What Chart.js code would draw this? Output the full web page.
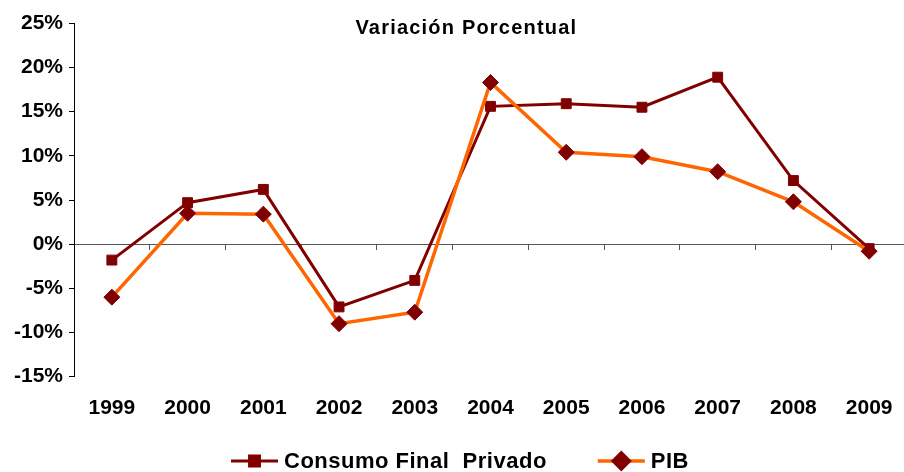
<!DOCTYPE html>
<html>
<head>
<meta charset="utf-8">
<script src="https://cdn.jsdelivr.net/npm/chart.js@4/dist/chart.umd.min.js"></script>
<style>
  html, body { margin: 0; padding: 0; background: #fff; }
  #wrap { width: 904px; height: 472px; overflow: hidden; }
</style>
</head>
<body>
<div id="wrap"><canvas id="chart" width="916" height="472"></canvas></div>
<script>
const years = ["1999", "2000", "2001", "2002", "2003", "2004", "2005", "2006", "2007", "2008", "2009"];
const consumoFinal = [-1.8, 4.7, 6.2, -7.1, -4.1, 15.6, 15.9, 15.5, 18.9, 7.2, -0.5];
const pib = [-6.0, 3.5, 3.4, -9.0, -7.7, 18.3, 10.4, 9.9, 8.2, 4.8, -0.8];
const yMin = -15;
const yMax = 25;
const yStep = 5;
const titleText = "Variación Porcentual";

const FONT = '"Liberation Sans", Arial, sans-serif';
const MAROON = "#800000";
const ORANGE = "#FF6600";

const titlePlugin = {
  id: "plotTitle",
  afterDraw(chart) {
    const { ctx, chartArea } = chart;
    ctx.save();
    ctx.font = `bold 20px ${FONT}`;
    ctx.letterSpacing = "1.2px";
    ctx.fillStyle = "#000";
    ctx.textAlign = "center";
    ctx.textBaseline = "middle";
    ctx.fillText(titleText, chartArea.left + chartArea.width * 0.471, chartArea.top + 5);
    ctx.restore();
  },
};

// legend: line sample with the marker on it, then the label
const legendPlugin = {
  id: "lineLegend",
  afterDraw(chart) {
    const { ctx } = chart;
    const sampleW = 47, gap = 6, spacing = 51, y = 461;
    ctx.save();
    ctx.font = `bold 22px ${FONT}`;
    ctx.letterSpacing = "0.5px";
    ctx.textBaseline = "middle";
    ctx.textAlign = "left";
    const sets = chart.data.datasets;
    const widths = sets.map((ds) => sampleW + gap + ctx.measureText(ds.label).width);
    const total = widths.reduce((a, b) => a + b, 0) + spacing * (sets.length - 1);
    let x = 460 - total / 2;
    sets.forEach((ds, i) => {
      ctx.strokeStyle = ds.borderColor;
      ctx.lineWidth = ds.borderWidth;
      ctx.beginPath();
      ctx.moveTo(x, y);
      ctx.lineTo(x + sampleW, y);
      ctx.stroke();
      ctx.fillStyle = ds.pointBackgroundColor;
      ctx.strokeStyle = ds.pointBorderColor;
      Chart.helpers.drawPoint(ctx, { pointStyle: ds.pointStyle, radius: ds.pointRadius, borderWidth: 1, rotation: 0 }, x + sampleW / 2, y);
      ctx.fillStyle = "#000";
      ctx.fillText(ds.label, x + sampleW + gap, y + 1);
      x += widths[i] + spacing;
    });
    ctx.restore();
  },
};

new Chart(document.getElementById("chart"), {
  type: "line",
  data: {
    labels: years,
    datasets: [
      {
        label: "Consumo Final  Privado",
        data: consumoFinal,
        borderColor: MAROON,
        borderWidth: 3,
        pointStyle: "rect",
        pointRadius: 7,
        pointBackgroundColor: MAROON,
        pointBorderColor: MAROON,
        pointBorderWidth: 1,
        tension: 0,
        order: 1,
      },
      {
        label: "PIB",
        data: pib,
        borderColor: ORANGE,
        borderWidth: 3.5,
        pointStyle: "rectRot",
        pointRadius: 8,
        pointBackgroundColor: MAROON,
        pointBorderColor: MAROON,
        pointBorderWidth: 1,
        tension: 0,
        order: 0,
      },
    ],
  },
  options: {
    responsive: false,
    animation: false,
    layout: { padding: { top: 23.3, right: 3, bottom: 40, left: 0 } },
    plugins: {
      legend: { display: false },
      title: { display: false },
      tooltip: { enabled: false },
    },
    scales: {
      x: {
        type: "category",
        offset: true,
        position: "bottom",
        border: { display: false },
        grid: { display: false, drawTicks: false },
        ticks: {
          color: "#000",
          padding: 19,
          maxRotation: 0,
          autoSkip: false,
          font: { family: FONT, size: 21, weight: "bold" },
        },
        afterFit: (scale) => { scale.height = 472 - 40 - 376.7; },
      },
      xZero: {
        type: "category",
        offset: true,
        position: { y: 0 },
        border: { display: true, color: "#555", width: 1 },
        grid: { display: true, offset: true, drawOnChartArea: false, drawTicks: true, tickLength: 5, color: "#555" },
        ticks: { display: false },
      },
      y: {
        min: yMin,
        max: yMax,
        border: { display: true, color: "#000", width: 1 },
        grid: { display: true, drawOnChartArea: false, drawTicks: true, tickLength: 5, color: "#000" },
        ticks: {
          stepSize: yStep,
          color: "#000",
          padding: 6,
          font: { family: FONT, size: 21, weight: "bold" },
          callback: (v) => v + "%",
        },
        afterFit: (scale) => { scale.width = 74; },
      },
    },
  },
  plugins: [titlePlugin, legendPlugin],
});
</script>
</body>
</html>
